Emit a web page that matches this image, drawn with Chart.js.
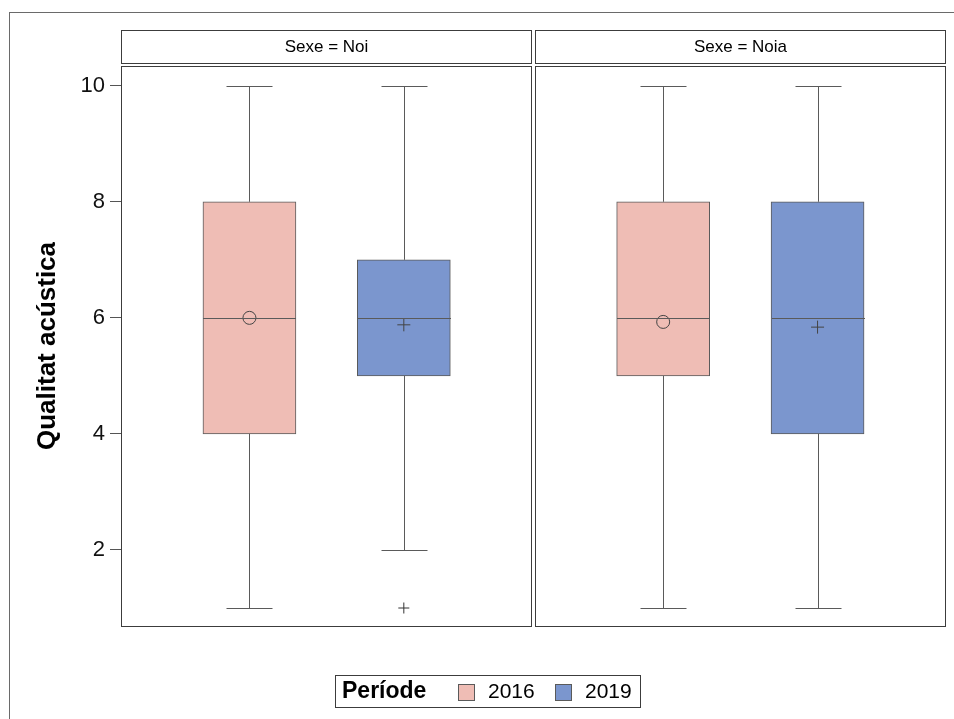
<!DOCTYPE html>
<html><head><meta charset="utf-8">
<script src="https://cdn.jsdelivr.net/npm/chart.js@4.4.1/dist/chart.umd.min.js"></script>
<style>html,body{margin:0;padding:0;background:#fff}#wrap{width:954px;height:719px;position:relative}</style>
</head><body><div id="wrap"><canvas id="c" width="954" height="719"></canvas></div>
<script>
// ---- data ----
const panels = ['Sexe = Noi', 'Sexe = Noia'];
const periods = ['2016', '2019'];
// indexed [panel][period]
const minVals = [[1, 2], [1, 1]];
const q1Vals = [[4, 5], [5, 4]];
const medianVals = [[6, 6], [6, 6]];
const q3Vals = [[8, 7], [8, 8]];
const maxVals = [[10, 10], [10, 10]];
const meanVals = [[6.0, 5.88], [5.93, 5.84]];
const outlierVals = [[[], [1]], [[], []]];
const yTicks = [2, 4, 6, 8, 10];
const yTitle = 'Qualitat acústica';
const legendTitle = 'Període';

// ---- style / layout ----
const FILL = ['#EFBDB5', '#7B96CE'];
const LINE = '#5a5a5a';
const FRAME = '#3c3c3c';
const FONT = "'Liberation Sans', Arial, sans-serif";
const STEP = 2.68;            // panel spacing in x units
const PAD = 0.832;            // half-panel extent beyond box centres
const XMIN = -PAD, XMAX = STEP + 1 + PAD;
const Y_MIN = 0.69, Y_MAX = 10.34;
const xPos = (p, i) => p * STEP + i;

const datasets = [];
periods.forEach((per, i) => {
  datasets.push({
    type: 'bar', label: per,
    data: panels.map((_, p) => ({x: xPos(p, i), y: [q1Vals[p][i], q3Vals[p][i]]})),
    backgroundColor: FILL[i], borderColor: LINE, borderWidth: 1, borderSkipped: false,
    barThickness: 93, grouped: false, order: 3
  });
});
periods.forEach((per, i) => {
  datasets.push({
    type: 'scatter', label: 'mean ' + per,
    data: panels.map((_, p) => ({x: xPos(p, i), y: meanVals[p][i]})),
    pointStyle: i === 0 ? 'circle' : 'cross', pointRadius: 6.5,
    pointBackgroundColor: 'rgba(0,0,0,0)', pointBorderColor: '#444', pointBorderWidth: 1, order: 1
  });
});
const outData = [];
panels.forEach((_, p) => periods.forEach((__, i) => outlierVals[p][i].forEach(v => outData.push({x: xPos(p, i), y: v}))));
datasets.push({
  type: 'scatter', label: 'outliers', data: outData,
  pointStyle: 'cross', pointRadius: 5.5, pointBorderColor: '#333', pointBorderWidth: 1, order: 1
});

const boxPlugin = {
  id: 'boxParts',
  beforeDraw(chart) {
    const c = chart.ctx;
    c.save();
    c.fillStyle = '#fff'; c.fillRect(0, 0, chart.width, chart.height);
    c.strokeStyle = '#6a6a6a'; c.lineWidth = 1;
    c.strokeRect(9.5, 12.5, chart.width + 10, chart.height + 10);
    c.restore();
  },
  afterDatasetsDraw(chart) {
    const c = chart.ctx, x = chart.scales.x, y = chart.scales.y;
    c.save();
    c.strokeStyle = LINE; c.lineWidth = 1;
    panels.forEach((_, p) => periods.forEach((__, i) => {
      const cx = Math.round(x.getPixelForValue(xPos(p, i))) + 0.5;
      const half = 46.5, cap = 23;
      const yMin = Math.round(y.getPixelForValue(minVals[p][i])) + 0.5;
      const yMax = Math.round(y.getPixelForValue(maxVals[p][i])) + 0.5;
      const yQ1 = y.getPixelForValue(q1Vals[p][i]);
      const yQ3 = y.getPixelForValue(q3Vals[p][i]);
      const yMed = Math.round(y.getPixelForValue(medianVals[p][i])) + 0.5;
      c.beginPath();
      c.moveTo(cx, yMax); c.lineTo(cx, yQ3);
      c.moveTo(cx, yQ1); c.lineTo(cx, yMin);
      c.moveTo(cx - cap, yMax); c.lineTo(cx + cap, yMax);
      c.moveTo(cx - cap, yMin); c.lineTo(cx + cap, yMin);
      c.moveTo(cx - half, yMed); c.lineTo(cx + half, yMed);
      c.stroke();
    }));
    c.restore();
  },
  afterDraw(chart) {
    const c = chart.ctx, x = chart.scales.x, a = chart.chartArea;
    c.save();
    c.strokeStyle = FRAME; c.lineWidth = 1;
    panels.forEach((name, p) => {
      const l = Math.round(x.getPixelForValue(p * STEP - PAD)) + 0.5;
      const r = Math.round(x.getPixelForValue(p * STEP + 1 + PAD)) - 0.5;
      c.strokeRect(l, Math.round(a.top) + 0.5, r - l, Math.round(a.bottom - a.top));
      c.strokeRect(l, 30.5, r - l, 33);
      c.fillStyle = '#000'; c.font = '17px ' + FONT;
      c.textAlign = 'center'; c.textBaseline = 'middle';
      c.fillText(name, (l + r) / 2, 47);
    });
    // legend
    c.strokeStyle = FRAME;
    c.strokeRect(335.5, 675.5, 305, 32);
    c.textBaseline = 'middle'; c.textAlign = 'left'; c.fillStyle = '#000';
    c.font = 'bold 23px ' + FONT;
    c.fillText(legendTitle, 342, 692);
    const sw = [458, 555], tx = [488, 585];
    periods.forEach((per, i) => {
      c.fillStyle = FILL[i]; c.fillRect(sw[i] + 0.5, 684.5, 16, 16);
      c.strokeStyle = LINE; c.strokeRect(sw[i] + 0.5, 684.5, 16, 16);
      c.fillStyle = '#000'; c.font = '21px ' + FONT;
      c.fillText(per, tx[i], 692);
    });
    c.restore();
  }
};

new Chart(document.getElementById('c'), {
  type: 'bar',
  data: {datasets},
  options: {
    responsive: false, animation: false,
    layout: {padding: {top: 66, bottom: 93, left: 0, right: 8}},
    plugins: {legend: {display: false}, tooltip: {enabled: false}},
    scales: {
      x: {type: 'linear', min: XMIN, max: XMAX, display: false, offset: false},
      y: {
        type: 'linear', min: Y_MIN, max: Y_MAX, position: 'left',
        afterFit(s) { s.width = 121; },
        afterBuildTicks(s) { s.ticks = yTicks.map(v => ({value: v})); },
        grid: {drawOnChartArea: false, drawTicks: true, tickLength: 11, color: '#555'},
        border: {display: false},
        ticks: {color: '#111', padding: 5, font: {family: FONT, size: 22}},
        title: {display: true, text: yTitle, color: '#000', font: {family: FONT, size: 26, weight: 'bold'}, padding: {top: 32, bottom: 0}}
      }
    }
  },
  plugins: [boxPlugin]
});
</script></body></html>
